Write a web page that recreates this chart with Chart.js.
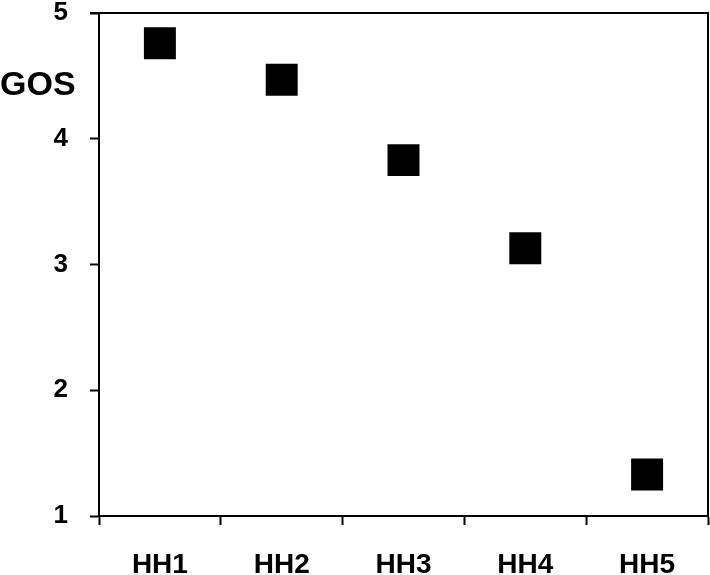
<!DOCTYPE html>
<html lang="en">
<head>
    <meta charset="UTF-8">
    <title>GOS by group</title>
    <script src="https://cdn.jsdelivr.net/npm/chart.js"></script>
    <style>
        body { margin: 0; background: #fff; }
    </style>
</head>
<body>
    <canvas id="gosChart" width="710" height="575"></canvas>

    <script>
        // values
        const groups = ['HH1', 'HH2', 'HH3', 'HH4', 'HH5'];
        const gosValues = [4.76, 4.47, 3.83, 3.13, 1.33];
        const yTicks = [1, 2, 3, 4, 5];

        const fontFamily = '"Liberation Sans", Arial, sans-serif';

        // no extra room for overhanging tick labels, the box sits at fixed edges
        function noPadding(scale) {
            scale.paddingTop = 0;
            scale.paddingBottom = 0;
            scale.paddingLeft = 0;
            scale.paddingRight = 0;
        }

        // closes the box on top and right, and writes the GOS label
        const frameAndLabel = {
            id: 'frameAndLabel',
            afterDraw(chart) {
                const c = chart.ctx;
                const a = chart.chartArea;
                c.save();
                c.strokeStyle = '#000';
                c.lineWidth = 2;
                c.beginPath();
                c.moveTo(a.left - 9, a.top);
                c.lineTo(a.right, a.top);
                c.lineTo(a.right, a.bottom);
                c.stroke();
                c.fillStyle = '#000';
                c.font = 'bold 34px ' + fontFamily;
                c.textAlign = 'left';
                c.textBaseline = 'alphabetic';
                c.fillText('GOS', 0, 95);
                c.restore();
            }
        };

        const ctx = document.getElementById('gosChart').getContext('2d');
        new Chart(ctx, {
            type: 'line',
            data: {
                labels: groups,
                datasets: [{
                    label: 'GOS',
                    data: gosValues,
                    showLine: false,
                    pointStyle: 'rect',
                    pointRadius: 22.6,
                    pointHoverRadius: 22.6,
                    backgroundColor: '#000',
                    borderColor: '#000',
                    pointBorderWidth: 0
                }]
            },
            options: {
                responsive: false,
                animation: false,
                layout: {
                    autoPadding: false,
                    padding: { top: 13, right: 2, left: 0, bottom: 0 }
                },
                plugins: {
                    legend: { display: false },
                    tooltip: { enabled: false }
                },
                scales: {
                    x: {
                        offset: true,
                        grid: {
                            offset: true,
                            drawOnChartArea: false,
                            tickLength: 9,
                            tickWidth: 2,
                            tickColor: '#000'
                        },
                        border: { display: true, color: '#000', width: 2 },
                        ticks: {
                            color: '#000',
                            padding: 23,
                            maxRotation: 0,
                            font: { family: fontFamily, size: 28, weight: 'bold' }
                        },
                        afterFit(scale) {
                            scale.height = 59;
                            noPadding(scale);
                        }
                    },
                    y: {
                        min: 1,
                        max: 5,
                        afterBuildTicks(scale) {
                            scale.ticks = yTicks.map(v => ({ value: v }));
                        },
                        grid: {
                            drawOnChartArea: false,
                            tickLength: 9,
                            tickWidth: 2,
                            tickColor: '#000'
                        },
                        border: { display: true, color: '#000', width: 2 },
                        ticks: {
                            color: '#000',
                            padding: 22,
                            font: { family: fontFamily, size: 26, weight: 'bold' }
                        },
                        afterFit(scale) {
                            scale.width = 99;
                            noPadding(scale);
                        }
                    }
                }
            },
            plugins: [frameAndLabel]
        });
    </script>
</body>
</html>
